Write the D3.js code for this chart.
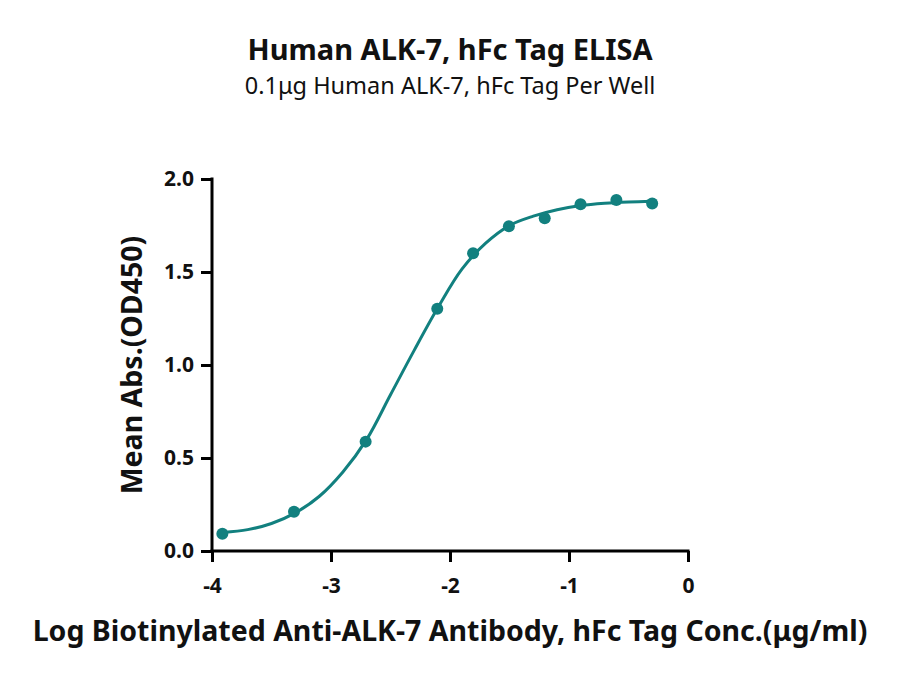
<!DOCTYPE html>
<html>
<head>
<meta charset="utf-8">
<script src="https://cdn.jsdelivr.net/npm/d3@7"></script>
<style>
  body { margin: 0; background: #fff; }
  text { font-family: "Noto Sans", "Open Sans", sans-serif; fill: #111; }
</style>
</head>
<body>
<div class="container"></div>
<script>
const w = 900;
const h = 676;
const pad = {top: 179, right: 212, bottom: 125, left: 212};

// measured points (log conc, OD450)
const logConc = [-3.913, -3.311, -2.709, -2.107, -1.806, -1.505, -1.204, -0.903, -0.602, -0.301];
const meanAbs = [0.093, 0.211, 0.588, 1.303, 1.601, 1.746, 1.789, 1.864, 1.887, 1.868];

// fitted curve
const curveX = [-3.91, -3.7, -3.5, -3.3, -3.1, -2.9, -2.7, -2.5, -2.3, -2.1, -1.9, -1.7, -1.5, -1.3, -1.1, -0.9, -0.7, -0.5, -0.3];
const curveY = [0.10, 0.115, 0.148, 0.205, 0.293, 0.425, 0.60, 0.84, 1.08, 1.31, 1.515, 1.655, 1.75, 1.80, 1.835, 1.857, 1.869, 1.876, 1.88];

const xTicks = [-4, -3, -2, -1, 0];
const yTicks = [0.0, 0.5, 1.0, 1.5, 2.0];

const teal = '#12807f';

const svg = d3.select('.container')
              .append('svg')
              .attr('width', w)
              .attr('height', h);

// titles
svg.append('text')
   .text('Human ALK-7, hFc Tag ELISA')
   .attr('x', w / 2)
   .attr('y', 60)
   .attr('text-anchor', 'middle')
   .style('font-size', '29px')
   .style('font-weight', 'bold');
svg.append('text')
   .text('0.1μg Human ALK-7, hFc Tag Per Well')
   .attr('x', w / 2)
   .attr('y', 94)
   .attr('text-anchor', 'middle')
   .style('font-size', '23.5px');

// scales
const xScale = d3.scaleLinear().domain([-4, 0]).range([pad.left, w - pad.right]);
const yScale = d3.scaleLinear().domain([0, 2]).range([h - pad.bottom, pad.top]);

const tickFmtX = (d) => String(d).replace('−', '-');

// x axis
const xAxis = svg.append('g')
   .attr('transform', `translate(0, ${h - pad.bottom})`)
   .call(d3.axisBottom(xScale).tickValues(xTicks).tickFormat(tickFmtX).tickSizeOuter(0).tickSize(11).tickPadding(16));
// y axis
const yAxis = svg.append('g')
   .attr('transform', `translate(${pad.left}, 0)`)
   .call(d3.axisLeft(yScale).tickValues(yTicks).tickFormat(d3.format('.1f')).tickSizeOuter(0).tickSize(11).tickPadding(7));

[xAxis, yAxis].forEach(a => {
  a.select('.domain').attr('stroke', '#000').attr('stroke-width', 3);
  a.selectAll('.tick line').attr('stroke', '#000').attr('stroke-width', 3);
  a.selectAll('.tick text')
   .style('font-family', '"Noto Sans", sans-serif')
   .style('font-size', '21px')
   .style('font-weight', 'bold')
   .attr('fill', '#111');
});
// extend domains so the corner is closed
xAxis.select('.domain').attr('d', `M${pad.left - 1.5},0H${w - pad.right + 1.5}`);
yAxis.select('.domain').attr('d', `M0,${pad.top - 1.5}V${h - pad.bottom + 1.5}`);

// axis titles
svg.append('text')
   .text('Mean Abs.(OD450)')
   .attr('transform', `translate(142, ${(pad.top + h - pad.bottom) / 2}) rotate(-90)`)
   .attr('text-anchor', 'middle')
   .style('font-size', '28.5px')
   .style('font-weight', 'bold');
svg.append('text')
   .text('Log Biotinylated Anti-ALK-7 Antibody, hFc Tag Conc.(μg/ml)')
   .attr('x', w / 2)
   .attr('y', 641)
   .attr('text-anchor', 'middle')
   .style('font-size', '28.5px')
   .style('font-weight', 'bold');

// fitted curve
const line = d3.line()
               .x((d, i) => xScale(curveX[i]))
               .y((d) => yScale(d))
               .curve(d3.curveCatmullRom);
svg.append('path')
   .datum(curveY)
   .attr('d', line)
   .attr('fill', 'none')
   .attr('stroke', teal)
   .attr('stroke-width', 3);

// points
svg.selectAll('circle')
   .data(meanAbs)
   .enter()
   .append('circle')
   .attr('cx', (d, i) => xScale(logConc[i]))
   .attr('cy', (d) => yScale(d))
   .attr('r', 6)
   .style('fill', teal);
</script>
</body>
</html>
